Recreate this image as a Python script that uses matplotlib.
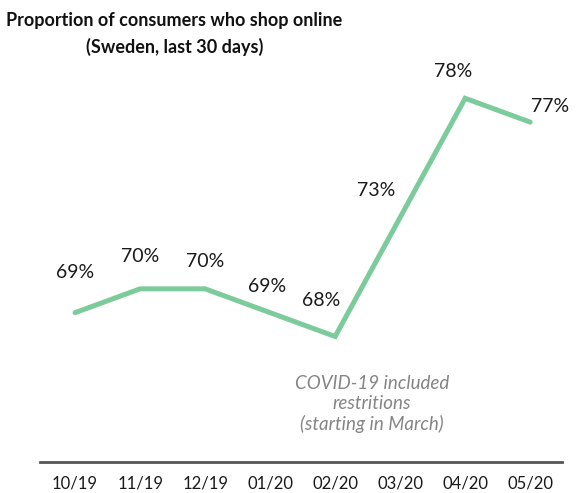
import matplotlib.pyplot as plt

months = ["10/19", "11/19", "12/19", "01/20", "02/20", "03/20", "04/20", "05/20"]
share = [69, 70, 70, 69, 68, 73, 78, 77]
# label offsets (points) relative to each data point
label_dx = [0, 0, 0, -2, -10, -17, -9, 14]
label_dy = [29, 23, 20, 19, 26, 19, 19, 11]

LINE = "#7ccb9b"

fig = plt.figure(figsize=(5.82, 4.93), dpi=100)
ax = fig.add_axes([0.0687, 0.0629, 0.897, 0.815])

x = list(range(len(months)))
ax.plot(x, share, color=LINE, lw=3.6, solid_capstyle="round", solid_joinstyle="miter")

for i, v in enumerate(share):
    ax.annotate(f"{v}%", (i, v), xytext=(label_dx[i], label_dy[i]),
                textcoords="offset points", ha="center", va="center",
                fontsize=14, family="Lato", color="#1a1a1a")

ax.set_xlim(-0.54, 7.49)
ax.set_ylim(62.73, 79.6)
ax.set_xticks(x)
ax.set_xticklabels(months, family="Lato", fontsize=12, color="#1a1a1a")
ax.tick_params(axis="x", length=0, pad=10)
ax.set_yticks([])
for s in ["top", "left", "right"]:
    ax.spines[s].set_visible(False)
ax.spines["bottom"].set_color("#555555")
ax.spines["bottom"].set_linewidth(2)

fig.text(0.30, 0.958, "Proportion of consumers who shop online",
         ha="center", va="center", family="Lato", fontweight="bold",
         fontsize=13, color="#111111")
fig.text(0.30, 0.905, "(Sweden, last 30 days)",
         ha="center", va="center", family="Lato", fontweight="bold",
         fontsize=13, color="#111111")

fig.text(372 / 582, 1 - 404 / 493,
         "COVID-19 included\nrestritions\n(starting in March)",
         ha="center", va="center", family="Lato", style="italic",
         fontsize=13.5, color="#858585", linespacing=1.2)

fig.savefig("out.png", dpi=100)
